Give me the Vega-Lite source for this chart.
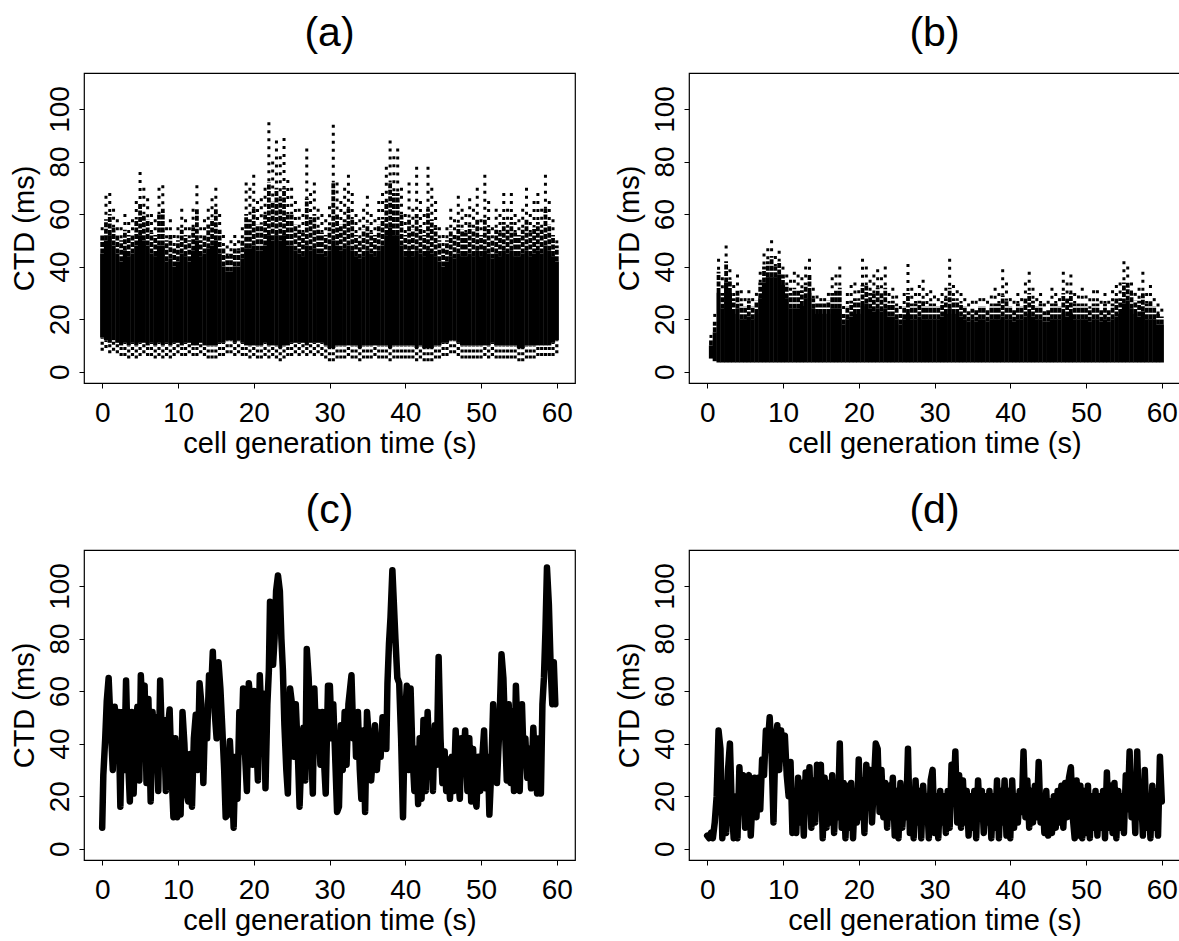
{
"$schema": "https://vega.github.io/schema/vega-lite/v6.json",
"background": "white",
"padding": {"left": 9, "top": 12, "right": 0, "bottom": 0},
"autosize": {"type": "pad"},
"columns": 2,
"spacing": {"column": 38, "row": 30},
"config": {
 "view": {"stroke": "black", "strokeWidth": 1.2},
 "font": "Liberation Sans",
 "title": {"font": "Liberation Sans", "fontSize": 41, "fontWeight": "normal", "color": "black", "offset": 18, "anchor": "middle", "frame": "group"},
 "axis": {"domain": false, "grid": false, "ticks": true, "tickColor": "black", "tickSize": 5, "tickWidth": 1, "labelFont": "Liberation Sans", "labelFontSize": 28, "labelColor": "black", "titleFont": "Liberation Sans", "titleFontSize": 29, "titleFontWeight": "normal", "titleColor": "black", "labelFlush": false, "labelOverlap": false},
 "axisX": {"labelPadding": 11, "titlePadding": 2, "minExtent": 44, "maxExtent": 44},
 "axisY": {"labelAngle": -90, "labelAlign": "center", "labelBaseline": "bottom", "labelPadding": 5, "titlePadding": 8, "minExtent": 37, "maxExtent": 37}
},
"concat": [
 {"title": "(a)", "width": 491, "height": 310, "data": {"name": "a"},
  "encoding": {"x": {"field": "t", "type": "quantitative", "scale": {"domain": [-2.4, 62.4], "nice": false, "zero": false}, "axis": {"title": "cell generation time (s)", "values": [0,10,20,30,40,50,60]}}},
  "layer": [
   {"mark": {"type": "rule", "color": "black", "strokeWidth": 3.2, "strokeDash": [3,3]}, "encoding": {"y": {"field": "mn", "type": "quantitative", "scale": {"domain": [-4.3, 113.7], "nice": false, "zero": false}, "axis": {"title": "CTD (ms)", "values": [0,20,40,60,80,100]}}, "y2": {"field": "lo"}}},
   {"mark": {"type": "rule", "color": "black", "strokeWidth": 4.2}, "encoding": {"y": {"field": "lo", "type": "quantitative", "title": "CTD (ms)"}, "y2": {"field": "hi"}}},
   {"mark": {"type": "rule", "color": "black", "strokeWidth": 3.8, "strokeDash": [5,1.5]}, "encoding": {"y": {"field": "hi", "type": "quantitative", "title": "CTD (ms)"}, "y2": {"field": "md"}}},
   {"mark": {"type": "rule", "color": "black", "strokeWidth": 3, "strokeDash": [3,5]}, "encoding": {"y": {"field": "mx", "type": "quantitative", "title": "CTD (ms)"}, "y2": {"field": "md"}}}
  ]},
 {"title": "(b)", "width": 491, "height": 310, "data": {"name": "b"},
  "encoding": {"x": {"field": "t", "type": "quantitative", "scale": {"domain": [-2.4, 62.4], "nice": false, "zero": false}, "axis": {"title": "cell generation time (s)", "values": [0,10,20,30,40,50,60]}}},
  "layer": [
   {"mark": {"type": "rule", "color": "black", "strokeWidth": 4.2}, "encoding": {"y": {"field": "lo", "type": "quantitative", "scale": {"domain": [-4.3, 113.7], "nice": false, "zero": false}, "axis": {"title": "CTD (ms)", "values": [0,20,40,60,80,100]}}, "y2": {"field": "hi"}}},
   {"mark": {"type": "rule", "color": "black", "strokeWidth": 3.8, "strokeDash": [5,1.5]}, "encoding": {"y": {"field": "hi", "type": "quantitative", "title": "CTD (ms)"}, "y2": {"field": "md"}}},
   {"mark": {"type": "rule", "color": "black", "strokeWidth": 3, "strokeDash": [3,5]}, "encoding": {"y": {"field": "mx", "type": "quantitative", "title": "CTD (ms)"}, "y2": {"field": "md"}}}
  ]},
 {"title": "(c)", "width": 491, "height": 310, "data": {"name": "c"},
  "mark": {"type": "line", "color": "black", "strokeWidth": 6.5, "strokeJoin": "round", "strokeCap": "round"},
  "encoding": {
   "x": {"field": "t", "type": "quantitative", "scale": {"domain": [-2.4, 62.4], "nice": false, "zero": false}, "axis": {"title": "cell generation time (s)", "values": [0,10,20,30,40,50,60]}},
   "y": {"field": "v", "type": "quantitative", "scale": {"domain": [-4.3, 113.7], "nice": false, "zero": false}, "axis": {"title": "CTD (ms)", "values": [0,20,40,60,80,100]}}}},
 {"title": "(d)", "width": 491, "height": 310, "data": {"name": "d"},
  "mark": {"type": "line", "color": "black", "strokeWidth": 6.5, "strokeJoin": "round", "strokeCap": "round"},
  "encoding": {
   "x": {"field": "t", "type": "quantitative", "scale": {"domain": [-2.4, 62.4], "nice": false, "zero": false}, "axis": {"title": "cell generation time (s)", "values": [0,10,20,30,40,50,60]}},
   "y": {"field": "v", "type": "quantitative", "scale": {"domain": [-4.3, 113.7], "nice": false, "zero": false}, "axis": {"title": "CTD (ms)", "values": [0,20,40,60,80,100]}}}}
],
"datasets": {
"a": [
{"t":0,"mn":8,"lo":13,"hi":45,"md":52,"mx":55},
{"t":0.5,"mn":9,"lo":12,"hi":50,"md":58,"mx":67},
{"t":1,"mn":7,"lo":11,"hi":52,"md":60,"mx":68},
{"t":1.5,"mn":8,"lo":12,"hi":48,"md":55,"mx":62},
{"t":2,"mn":7,"lo":11,"hi":45,"md":52,"mx":58},
{"t":2.5,"mn":6,"lo":10,"hi":42,"md":50,"mx":55},
{"t":3,"mn":6,"lo":11,"hi":46,"md":54,"mx":60},
{"t":3.5,"mn":5,"lo":10,"hi":44,"md":52,"mx":57},
{"t":4,"mn":6,"lo":11,"hi":45,"md":52,"mx":58},
{"t":4.5,"mn":5,"lo":10,"hi":48,"md":58,"mx":65},
{"t":5,"mn":6,"lo":11,"hi":52,"md":64,"mx":76},
{"t":5.5,"mn":7,"lo":11,"hi":50,"md":60,"mx":70},
{"t":6,"mn":6,"lo":10,"hi":48,"md":58,"mx":66},
{"t":6.5,"mn":6,"lo":11,"hi":45,"md":53,"mx":60},
{"t":7,"mn":5,"lo":10,"hi":44,"md":52,"mx":58},
{"t":7.5,"mn":6,"lo":11,"hi":48,"md":60,"mx":70},
{"t":8,"mn":5,"lo":10,"hi":48,"md":62,"mx":71},
{"t":8.5,"mn":6,"lo":11,"hi":42,"md":50,"mx":55},
{"t":9,"mn":5,"lo":10,"hi":43,"md":52,"mx":58},
{"t":9.5,"mn":6,"lo":11,"hi":40,"md":47,"mx":52},
{"t":10,"mn":7,"lo":11,"hi":42,"md":50,"mx":55},
{"t":10.5,"mn":6,"lo":10,"hi":45,"md":54,"mx":62},
{"t":11,"mn":6,"lo":11,"hi":44,"md":52,"mx":58},
{"t":11.5,"mn":7,"lo":11,"hi":42,"md":50,"mx":55},
{"t":12,"mn":6,"lo":10,"hi":46,"md":55,"mx":62},
{"t":12.5,"mn":6,"lo":10,"hi":50,"md":62,"mx":71},
{"t":13,"mn":7,"lo":11,"hi":44,"md":50,"mx":55},
{"t":13.5,"mn":6,"lo":10,"hi":45,"md":52,"mx":58},
{"t":14,"mn":5,"lo":10,"hi":47,"md":56,"mx":62},
{"t":14.5,"mn":5,"lo":10,"hi":48,"md":58,"mx":66},
{"t":15,"mn":5,"lo":10,"hi":50,"md":62,"mx":70},
{"t":15.5,"mn":6,"lo":11,"hi":45,"md":54,"mx":60},
{"t":16,"mn":6,"lo":11,"hi":40,"md":47,"mx":52},
{"t":16.5,"mn":7,"lo":12,"hi":38,"md":44,"mx":48},
{"t":17,"mn":7,"lo":12,"hi":38,"md":45,"mx":50},
{"t":17.5,"mn":6,"lo":11,"hi":40,"md":47,"mx":52},
{"t":18,"mn":7,"lo":12,"hi":40,"md":46,"mx":50},
{"t":18.5,"mn":6,"lo":11,"hi":43,"md":50,"mx":55},
{"t":19,"mn":6,"lo":10,"hi":47,"md":60,"mx":72},
{"t":19.5,"mn":5,"lo":10,"hi":47,"md":58,"mx":70},
{"t":20,"mn":6,"lo":10,"hi":48,"md":62,"mx":75},
{"t":20.5,"mn":5,"lo":10,"hi":46,"md":56,"mx":65},
{"t":21,"mn":5,"lo":10,"hi":46,"md":56,"mx":66},
{"t":21.5,"mn":6,"lo":11,"hi":48,"md":60,"mx":70},
{"t":22,"mn":5,"lo":10,"hi":52,"md":72,"mx":95},
{"t":22.5,"mn":6,"lo":10,"hi":50,"md":65,"mx":80},
{"t":23,"mn":5,"lo":10,"hi":52,"md":70,"mx":88},
{"t":23.5,"mn":4,"lo":9,"hi":50,"md":66,"mx":82},
{"t":24,"mn":5,"lo":10,"hi":52,"md":70,"mx":89},
{"t":24.5,"mn":6,"lo":10,"hi":48,"md":60,"mx":73},
{"t":25,"mn":6,"lo":11,"hi":48,"md":60,"mx":70},
{"t":25.5,"mn":7,"lo":11,"hi":46,"md":56,"mx":65},
{"t":26,"mn":6,"lo":11,"hi":45,"md":54,"mx":62},
{"t":26.5,"mn":7,"lo":11,"hi":44,"md":53,"mx":60},
{"t":27,"mn":6,"lo":10,"hi":48,"md":66,"mx":85},
{"t":27.5,"mn":7,"lo":11,"hi":46,"md":58,"mx":68},
{"t":28,"mn":6,"lo":11,"hi":47,"md":60,"mx":72},
{"t":28.5,"mn":7,"lo":11,"hi":45,"md":54,"mx":62},
{"t":29,"mn":6,"lo":11,"hi":45,"md":53,"mx":60},
{"t":29.5,"mn":5,"lo":10,"hi":44,"md":52,"mx":58},
{"t":30,"mn":4,"lo":9,"hi":46,"md":55,"mx":63},
{"t":30.5,"mn":4,"lo":9,"hi":50,"md":72,"mx":94},
{"t":31,"mn":5,"lo":10,"hi":48,"md":60,"mx":72},
{"t":31.5,"mn":5,"lo":10,"hi":46,"md":56,"mx":65},
{"t":32,"mn":5,"lo":10,"hi":47,"md":58,"mx":70},
{"t":32.5,"mn":6,"lo":10,"hi":48,"md":62,"mx":75},
{"t":33,"mn":5,"lo":10,"hi":46,"md":58,"mx":68},
{"t":33.5,"mn":5,"lo":10,"hi":44,"md":52,"mx":60},
{"t":34,"mn":4,"lo":9,"hi":43,"md":50,"mx":58},
{"t":34.5,"mn":5,"lo":10,"hi":44,"md":54,"mx":62},
{"t":35,"mn":5,"lo":10,"hi":46,"md":56,"mx":67},
{"t":35.5,"mn":5,"lo":10,"hi":45,"md":53,"mx":60},
{"t":36,"mn":6,"lo":10,"hi":44,"md":52,"mx":58},
{"t":36.5,"mn":5,"lo":10,"hi":46,"md":56,"mx":65},
{"t":37,"mn":5,"lo":10,"hi":48,"md":58,"mx":68},
{"t":37.5,"mn":5,"lo":10,"hi":52,"md":65,"mx":78},
{"t":38,"mn":4,"lo":9,"hi":55,"md":72,"mx":88},
{"t":38.5,"mn":5,"lo":10,"hi":52,"md":68,"mx":82},
{"t":39,"mn":5,"lo":10,"hi":52,"md":68,"mx":85},
{"t":39.5,"mn":5,"lo":10,"hi":48,"md":60,"mx":70},
{"t":40,"mn":5,"lo":10,"hi":44,"md":52,"mx":60},
{"t":40.5,"mn":5,"lo":10,"hi":46,"md":58,"mx":72},
{"t":41,"mn":5,"lo":10,"hi":44,"md":54,"mx":62},
{"t":41.5,"mn":4,"lo":9,"hi":46,"md":60,"mx":78},
{"t":42,"mn":5,"lo":10,"hi":45,"md":55,"mx":65},
{"t":42.5,"mn":4,"lo":9,"hi":44,"md":52,"mx":60},
{"t":43,"mn":4,"lo":9,"hi":46,"md":62,"mx":78},
{"t":43.5,"mn":4,"lo":9,"hi":45,"md":58,"mx":70},
{"t":44,"mn":5,"lo":10,"hi":44,"md":55,"mx":65},
{"t":44.5,"mn":5,"lo":10,"hi":42,"md":50,"mx":55},
{"t":45,"mn":6,"lo":11,"hi":40,"md":47,"mx":52},
{"t":45.5,"mn":6,"lo":11,"hi":42,"md":50,"mx":55},
{"t":46,"mn":7,"lo":12,"hi":44,"md":54,"mx":62},
{"t":46.5,"mn":7,"lo":12,"hi":43,"md":52,"mx":58},
{"t":47,"mn":6,"lo":11,"hi":45,"md":56,"mx":67},
{"t":47.5,"mn":5,"lo":10,"hi":44,"md":54,"mx":62},
{"t":48,"mn":5,"lo":10,"hi":44,"md":53,"mx":60},
{"t":48.5,"mn":5,"lo":10,"hi":45,"md":56,"mx":66},
{"t":49,"mn":5,"lo":10,"hi":44,"md":54,"mx":62},
{"t":49.5,"mn":5,"lo":10,"hi":46,"md":58,"mx":70},
{"t":50,"mn":5,"lo":10,"hi":44,"md":52,"mx":58},
{"t":50.5,"mn":6,"lo":10,"hi":46,"md":58,"mx":75},
{"t":51,"mn":5,"lo":10,"hi":45,"md":55,"mx":65},
{"t":51.5,"mn":6,"lo":11,"hi":43,"md":50,"mx":55},
{"t":52,"mn":5,"lo":10,"hi":45,"md":54,"mx":62},
{"t":52.5,"mn":5,"lo":10,"hi":44,"md":53,"mx":60},
{"t":53,"mn":5,"lo":10,"hi":46,"md":57,"mx":68},
{"t":53.5,"mn":5,"lo":10,"hi":45,"md":54,"mx":62},
{"t":54,"mn":5,"lo":10,"hi":46,"md":57,"mx":68},
{"t":54.5,"mn":5,"lo":10,"hi":44,"md":53,"mx":60},
{"t":55,"mn":4,"lo":9,"hi":44,"md":52,"mx":58},
{"t":55.5,"mn":4,"lo":9,"hi":45,"md":54,"mx":62},
{"t":56,"mn":5,"lo":10,"hi":46,"md":58,"mx":70},
{"t":56.5,"mn":5,"lo":10,"hi":44,"md":53,"mx":60},
{"t":57,"mn":5,"lo":10,"hi":45,"md":55,"mx":65},
{"t":57.5,"mn":6,"lo":10,"hi":46,"md":57,"mx":68},
{"t":58,"mn":6,"lo":10,"hi":45,"md":54,"mx":62},
{"t":58.5,"mn":6,"lo":10,"hi":48,"md":62,"mx":75},
{"t":59,"mn":6,"lo":10,"hi":46,"md":56,"mx":65},
{"t":59.5,"mn":6,"lo":11,"hi":44,"md":52,"mx":58},
{"t":60,"mn":7,"lo":12,"hi":42,"md":48,"mx":50}
],
"b": [
{"t":0.5,"lo":5,"hi":10,"md":12,"mx":14},
{"t":1,"lo":4,"hi":15,"md":19,"mx":22},
{"t":1.5,"lo":3.5,"hi":30,"md":38,"mx":43},
{"t":2,"lo":3.5,"hi":24,"md":30,"mx":36},
{"t":2.5,"lo":3.5,"hi":34,"md":42,"mx":48},
{"t":3,"lo":3.5,"hi":30,"md":35,"mx":39},
{"t":3.5,"lo":3.5,"hi":22,"md":28,"mx":33},
{"t":4,"lo":3.5,"hi":24,"md":31,"mx":37},
{"t":4.5,"lo":3.5,"hi":20,"md":26,"mx":31},
{"t":5,"lo":3.5,"hi":20,"md":25,"mx":28},
{"t":5.5,"lo":3.5,"hi":21,"md":27,"mx":31},
{"t":6,"lo":3.5,"hi":20,"md":25,"mx":28},
{"t":6.5,"lo":3.5,"hi":22,"md":27,"mx":30},
{"t":7,"lo":3.5,"hi":28,"md":34,"mx":38},
{"t":7.5,"lo":3.5,"hi":34,"md":40,"mx":45},
{"t":8,"lo":3.5,"hi":36,"md":42,"mx":47},
{"t":8.5,"lo":3.5,"hi":36,"md":44,"mx":50},
{"t":9,"lo":3.5,"hi":36,"md":40,"mx":44},
{"t":9.5,"lo":3.5,"hi":37,"md":42,"mx":46},
{"t":10,"lo":3.5,"hi":33,"md":37,"mx":40},
{"t":10.5,"lo":3.5,"hi":28,"md":33,"mx":37},
{"t":11,"lo":3.5,"hi":24,"md":30,"mx":35},
{"t":11.5,"lo":3.5,"hi":24,"md":32,"mx":38},
{"t":12,"lo":3.5,"hi":24,"md":31,"mx":37},
{"t":12.5,"lo":3.5,"hi":25,"md":31,"mx":36},
{"t":13,"lo":3.5,"hi":28,"md":34,"mx":40},
{"t":13.5,"lo":3.5,"hi":30,"md":37,"mx":43},
{"t":14,"lo":3.5,"hi":24,"md":28,"mx":32},
{"t":14.5,"lo":3.5,"hi":22,"md":26,"mx":29},
{"t":15,"lo":3.5,"hi":22,"md":26,"mx":28},
{"t":15.5,"lo":3.5,"hi":22,"md":26,"mx":28},
{"t":16,"lo":3.5,"hi":22,"md":27,"mx":30},
{"t":16.5,"lo":3.5,"hi":24,"md":30,"mx":36},
{"t":17,"lo":3.5,"hi":24,"md":31,"mx":37},
{"t":17.5,"lo":3.5,"hi":24,"md":32,"mx":40},
{"t":18,"lo":3.5,"hi":18,"md":22,"mx":25},
{"t":18.5,"lo":3.5,"hi":20,"md":25,"mx":30},
{"t":19,"lo":3.5,"hi":21,"md":27,"mx":33},
{"t":19.5,"lo":3.5,"hi":22,"md":28,"mx":34},
{"t":20,"lo":3.5,"hi":22,"md":27,"mx":31},
{"t":20.5,"lo":3.5,"hi":25,"md":33,"mx":43},
{"t":21,"lo":3.5,"hi":26,"md":33,"mx":40},
{"t":21.5,"lo":3.5,"hi":24,"md":30,"mx":35},
{"t":22,"lo":3.5,"hi":23,"md":30,"mx":37},
{"t":22.5,"lo":3.5,"hi":24,"md":32,"mx":39},
{"t":23,"lo":3.5,"hi":23,"md":30,"mx":36},
{"t":23.5,"lo":3.5,"hi":24,"md":32,"mx":40},
{"t":24,"lo":3.5,"hi":21,"md":26,"mx":30},
{"t":24.5,"lo":3.5,"hi":21,"md":27,"mx":32},
{"t":25,"lo":3.5,"hi":20,"md":25,"mx":29},
{"t":25.5,"lo":3.5,"hi":18,"md":22,"mx":25},
{"t":26,"lo":3.5,"hi":20,"md":25,"mx":30},
{"t":26.5,"lo":3.5,"hi":22,"md":30,"mx":41},
{"t":27,"lo":3.5,"hi":20,"md":26,"mx":32},
{"t":27.5,"lo":3.5,"hi":20,"md":26,"mx":30},
{"t":28,"lo":3.5,"hi":21,"md":27,"mx":33},
{"t":28.5,"lo":3.5,"hi":20,"md":27,"mx":35},
{"t":29,"lo":3.5,"hi":20,"md":25,"mx":30},
{"t":29.5,"lo":3.5,"hi":20,"md":26,"mx":31},
{"t":30,"lo":3.5,"hi":20,"md":25,"mx":29},
{"t":30.5,"lo":3.5,"hi":20,"md":25,"mx":28},
{"t":31,"lo":3.5,"hi":21,"md":26,"mx":30},
{"t":31.5,"lo":3.5,"hi":22,"md":28,"mx":32},
{"t":32,"lo":3.5,"hi":24,"md":32,"mx":43},
{"t":32.5,"lo":3.5,"hi":22,"md":28,"mx":33},
{"t":33,"lo":3.5,"hi":22,"md":27,"mx":31},
{"t":33.5,"lo":3.5,"hi":21,"md":26,"mx":30},
{"t":34,"lo":3.5,"hi":20,"md":25,"mx":28},
{"t":34.5,"lo":3.5,"hi":19,"md":23,"mx":26},
{"t":35,"lo":3.5,"hi":20,"md":24,"mx":27},
{"t":35.5,"lo":3.5,"hi":19,"md":24,"mx":27},
{"t":36,"lo":3.5,"hi":20,"md":25,"mx":28},
{"t":36.5,"lo":3.5,"hi":20,"md":25,"mx":28},
{"t":37,"lo":3.5,"hi":19,"md":24,"mx":27},
{"t":37.5,"lo":3.5,"hi":20,"md":25,"mx":29},
{"t":38,"lo":3.5,"hi":20,"md":26,"mx":32},
{"t":38.5,"lo":3.5,"hi":20,"md":26,"mx":30},
{"t":39,"lo":3.5,"hi":21,"md":29,"mx":39},
{"t":39.5,"lo":3.5,"hi":20,"md":27,"mx":34},
{"t":40,"lo":3.5,"hi":20,"md":25,"mx":28},
{"t":40.5,"lo":3.5,"hi":19,"md":24,"mx":27},
{"t":41,"lo":3.5,"hi":20,"md":26,"mx":30},
{"t":41.5,"lo":3.5,"hi":20,"md":25,"mx":28},
{"t":42,"lo":3.5,"hi":21,"md":28,"mx":34},
{"t":42.5,"lo":3.5,"hi":22,"md":30,"mx":38},
{"t":43,"lo":3.5,"hi":21,"md":27,"mx":32},
{"t":43.5,"lo":3.5,"hi":20,"md":25,"mx":28},
{"t":44,"lo":3.5,"hi":20,"md":26,"mx":30},
{"t":44.5,"lo":3.5,"hi":19,"md":23,"mx":26},
{"t":45,"lo":3.5,"hi":19,"md":24,"mx":27},
{"t":45.5,"lo":3.5,"hi":20,"md":26,"mx":32},
{"t":46,"lo":3.5,"hi":20,"md":26,"mx":30},
{"t":46.5,"lo":3.5,"hi":20,"md":25,"mx":28},
{"t":47,"lo":3.5,"hi":22,"md":30,"mx":38},
{"t":47.5,"lo":3.5,"hi":21,"md":28,"mx":34},
{"t":48,"lo":3.5,"hi":22,"md":30,"mx":37},
{"t":48.5,"lo":3.5,"hi":20,"md":26,"mx":30},
{"t":49,"lo":3.5,"hi":20,"md":25,"mx":29},
{"t":49.5,"lo":3.5,"hi":20,"md":26,"mx":32},
{"t":50,"lo":3.5,"hi":20,"md":25,"mx":29},
{"t":50.5,"lo":3.5,"hi":19,"md":24,"mx":28},
{"t":51,"lo":3.5,"hi":20,"md":26,"mx":31},
{"t":51.5,"lo":3.5,"hi":20,"md":26,"mx":31},
{"t":52,"lo":3.5,"hi":19,"md":24,"mx":27},
{"t":52.5,"lo":3.5,"hi":20,"md":26,"mx":30},
{"t":53,"lo":3.5,"hi":19,"md":24,"mx":27},
{"t":53.5,"lo":3.5,"hi":20,"md":26,"mx":31},
{"t":54,"lo":3.5,"hi":21,"md":28,"mx":33},
{"t":54.5,"lo":3.5,"hi":22,"md":28,"mx":34},
{"t":55,"lo":3.5,"hi":26,"md":34,"mx":42},
{"t":55.5,"lo":3.5,"hi":27,"md":34,"mx":40},
{"t":56,"lo":3.5,"hi":24,"md":30,"mx":34},
{"t":56.5,"lo":3.5,"hi":22,"md":27,"mx":30},
{"t":57,"lo":3.5,"hi":21,"md":27,"mx":32},
{"t":57.5,"lo":3.5,"hi":23,"md":30,"mx":38},
{"t":58,"lo":3.5,"hi":20,"md":26,"mx":30},
{"t":58.5,"lo":3.5,"hi":20,"md":27,"mx":33},
{"t":59,"lo":3.5,"hi":20,"md":25,"mx":28},
{"t":59.5,"lo":3.5,"hi":18,"md":22,"mx":26},
{"t":60,"lo":3.5,"hi":18,"md":21,"mx":24}
],
"c": [
{"t":0,"v":8},{"t":0.15,"v":28},{"t":0.4,"v":42},{"t":0.6,"v":56},{"t":0.85,"v":65},{"t":1.1,"v":48},{"t":1.4,"v":30},{"t":1.65,"v":54},{"t":1.9,"v":40},{"t":2.15,"v":52},
{"t":2.4,"v":16},{"t":2.65,"v":52},{"t":2.9,"v":30},{"t":3.15,"v":64},{"t":3.4,"v":35},{"t":3.65,"v":18},{"t":3.9,"v":52},{"t":4.15,"v":21},{"t":4.4,"v":45},{"t":4.65,"v":54},
{"t":4.9,"v":26},{"t":5.1,"v":66},{"t":5.35,"v":50},{"t":5.6,"v":62},{"t":5.85,"v":25},{"t":6.1,"v":57},{"t":6.4,"v":18},{"t":6.65,"v":52},{"t":6.9,"v":38},{"t":7.15,"v":50},
{"t":7.4,"v":22},{"t":7.65,"v":64},{"t":7.9,"v":40},{"t":8.15,"v":49},{"t":8.4,"v":22},{"t":8.65,"v":45},{"t":8.9,"v":53},{"t":9.15,"v":30},{"t":9.4,"v":12},{"t":9.65,"v":42},
{"t":9.9,"v":12},{"t":10.1,"v":40},{"t":10.35,"v":13},{"t":10.6,"v":52},{"t":10.85,"v":40},{"t":11.1,"v":22},{"t":11.35,"v":18},{"t":11.6,"v":36},{"t":11.85,"v":16},{"t":12.1,"v":42},
{"t":12.35,"v":51},{"t":12.6,"v":30},{"t":12.85,"v":63},{"t":13.1,"v":55},{"t":13.35,"v":25},{"t":13.6,"v":52},{"t":13.85,"v":42},{"t":14.1,"v":66},{"t":14.35,"v":58},{"t":14.6,"v":75},
{"t":14.85,"v":52},{"t":15.1,"v":42},{"t":15.35,"v":71},{"t":15.6,"v":61},{"t":15.85,"v":46},{"t":16.1,"v":30},{"t":16.3,"v":12},{"t":16.6,"v":13},{"t":16.85,"v":41},{"t":17.1,"v":27},
{"t":17.35,"v":8},{"t":17.6,"v":35},{"t":17.85,"v":19},{"t":18.1,"v":52},{"t":18.35,"v":37},{"t":18.6,"v":61},{"t":18.85,"v":36},{"t":19.1,"v":22},{"t":19.35,"v":63},{"t":19.6,"v":55},
{"t":19.85,"v":32},{"t":20.05,"v":60},{"t":20.3,"v":44},{"t":20.55,"v":26},{"t":20.8,"v":66},{"t":21.05,"v":47},{"t":21.3,"v":59},{"t":21.55,"v":23},{"t":21.8,"v":55},{"t":22.0,"v":68},
{"t":22.15,"v":94},{"t":22.35,"v":88},{"t":22.55,"v":70},{"t":22.75,"v":80},{"t":22.95,"v":98},{"t":23.2,"v":104},{"t":23.45,"v":98},{"t":23.65,"v":80},{"t":23.85,"v":68},{"t":24.05,"v":47},
{"t":24.3,"v":30},{"t":24.5,"v":21},{"t":24.8,"v":61},{"t":25.05,"v":55},{"t":25.3,"v":35},{"t":25.55,"v":55},{"t":25.8,"v":38},{"t":26.05,"v":16},{"t":26.3,"v":36},{"t":26.55,"v":46},
{"t":26.8,"v":26},{"t":27.0,"v":76},{"t":27.25,"v":65},{"t":27.5,"v":44},{"t":27.8,"v":21},{"t":28.0,"v":61},{"t":28.25,"v":40},{"t":28.5,"v":52},{"t":28.8,"v":32},{"t":29.05,"v":52},
{"t":29.3,"v":32},{"t":29.5,"v":21},{"t":29.8,"v":62},{"t":30.05,"v":62},{"t":30.3,"v":42},{"t":30.5,"v":55},{"t":30.75,"v":35},{"t":31.0,"v":14},{"t":31.25,"v":16},{"t":31.5,"v":47},
{"t":31.75,"v":30},{"t":32.0,"v":52},{"t":32.25,"v":32},{"t":32.5,"v":55},{"t":32.9,"v":66},{"t":33.15,"v":42},{"t":33.35,"v":49},{"t":33.5,"v":35},{"t":33.75,"v":52},{"t":34.0,"v":30},
{"t":34.2,"v":19},{"t":34.45,"v":45},{"t":34.7,"v":14},{"t":34.95,"v":52},{"t":35.2,"v":42},{"t":35.5,"v":26},{"t":35.75,"v":37},{"t":36.0,"v":47},{"t":36.25,"v":30},{"t":36.5,"v":42},
{"t":36.75,"v":35},{"t":37.0,"v":50},{"t":37.25,"v":47},{"t":37.5,"v":38},{"t":37.65,"v":63},{"t":37.85,"v":78},{"t":38.05,"v":88},{"t":38.3,"v":106},{"t":38.5,"v":93},{"t":38.7,"v":80},
{"t":38.95,"v":65},{"t":39.2,"v":63},{"t":39.45,"v":42},{"t":39.7,"v":12},{"t":39.95,"v":49},{"t":40.2,"v":62},{"t":40.45,"v":30},{"t":40.7,"v":61},{"t":40.95,"v":36},{"t":41.2,"v":22},
{"t":41.45,"v":38},{"t":41.7,"v":17},{"t":41.9,"v":42},{"t":42.15,"v":19},{"t":42.4,"v":49},{"t":42.7,"v":22},{"t":42.95,"v":52},{"t":43.2,"v":32},{"t":43.4,"v":42},{"t":43.65,"v":22},
{"t":43.9,"v":47},{"t":44.15,"v":32},{"t":44.4,"v":73},{"t":44.65,"v":42},{"t":44.9,"v":25},{"t":45.2,"v":37},{"t":45.4,"v":22},{"t":45.65,"v":34},{"t":45.9,"v":19},{"t":46.15,"v":35},
{"t":46.4,"v":22},{"t":46.65,"v":45},{"t":46.9,"v":30},{"t":47.2,"v":19},{"t":47.4,"v":42},{"t":47.65,"v":32},{"t":47.9,"v":45},{"t":48.2,"v":22},{"t":48.45,"v":42},{"t":48.7,"v":18},
{"t":48.95,"v":38},{"t":49.2,"v":19},{"t":49.4,"v":16},{"t":49.65,"v":35},{"t":49.9,"v":22},{"t":50.1,"v":32},{"t":50.4,"v":45},{"t":50.65,"v":23},{"t":50.9,"v":35},{"t":51.1,"v":13},
{"t":51.35,"v":30},{"t":51.6,"v":55},{"t":51.85,"v":36},{"t":52.1,"v":25},{"t":52.4,"v":45},{"t":52.7,"v":74},{"t":52.95,"v":65},{"t":53.2,"v":42},{"t":53.4,"v":26},{"t":53.65,"v":55},
{"t":53.9,"v":25},{"t":54.1,"v":52},{"t":54.35,"v":22},{"t":54.6,"v":62},{"t":54.85,"v":42},{"t":55.1,"v":22},{"t":55.4,"v":55},{"t":55.6,"v":36},{"t":55.85,"v":42},{"t":56.1,"v":27},
{"t":56.35,"v":38},{"t":56.6,"v":23},{"t":56.9,"v":46},{"t":57.15,"v":30},{"t":57.4,"v":21},{"t":57.65,"v":42},{"t":57.9,"v":21},{"t":58.1,"v":55},{"t":58.3,"v":65},{"t":58.5,"v":83},
{"t":58.7,"v":107},{"t":58.95,"v":93},{"t":59.2,"v":68},{"t":59.4,"v":55},{"t":59.6,"v":71},{"t":59.8,"v":55}
],
"d": [
{"t":0,"v":5},{"t":0.25,"v":4},{"t":0.5,"v":6},{"t":0.75,"v":4},{"t":1,"v":10},{"t":1.25,"v":20},{"t":1.5,"v":45},{"t":1.75,"v":38},{"t":2,"v":4},{"t":2.25,"v":25},
{"t":2.5,"v":6},{"t":2.75,"v":30},{"t":3,"v":40},{"t":3.25,"v":15},{"t":3.5,"v":4},{"t":3.75,"v":20},{"t":4,"v":4},{"t":4.25,"v":31},{"t":4.5,"v":18},{"t":4.75,"v":28},
{"t":5,"v":8},{"t":5.25,"v":25},{"t":5.5,"v":28},{"t":5.75,"v":5},{"t":6,"v":20},{"t":6.25,"v":27},{"t":6.5,"v":12},{"t":6.75,"v":27},{"t":7,"v":15},{"t":7.25,"v":34},
{"t":7.5,"v":28},{"t":7.75,"v":45},{"t":8,"v":40},{"t":8.25,"v":50},{"t":8.5,"v":36},{"t":8.75,"v":10},{"t":9,"v":40},{"t":9.25,"v":47},{"t":9.5,"v":30},{"t":9.75,"v":45},
{"t":10,"v":35},{"t":10.25,"v":43},{"t":10.5,"v":28},{"t":10.75,"v":20},{"t":11,"v":33},{"t":11.25,"v":6},{"t":11.5,"v":20},{"t":11.75,"v":6},{"t":12,"v":27},{"t":12.25,"v":10},
{"t":12.5,"v":25},{"t":12.75,"v":5},{"t":13,"v":29},{"t":13.25,"v":18},{"t":13.5,"v":31},{"t":13.75,"v":8},{"t":14,"v":26},{"t":14.25,"v":10},{"t":14.5,"v":32},{"t":14.75,"v":20},
{"t":15,"v":32},{"t":15.25,"v":4},{"t":15.5,"v":27},{"t":15.75,"v":8},{"t":16,"v":25},{"t":16.25,"v":10},{"t":16.5,"v":28},{"t":16.75,"v":6},{"t":17,"v":22},{"t":17.25,"v":12},
{"t":17.5,"v":40},{"t":17.75,"v":8},{"t":18,"v":25},{"t":18.25,"v":4},{"t":18.5,"v":24},{"t":18.75,"v":8},{"t":19,"v":25},{"t":19.25,"v":4},{"t":19.5,"v":22},{"t":19.75,"v":10},
{"t":20,"v":34},{"t":20.25,"v":12},{"t":20.5,"v":26},{"t":20.75,"v":6},{"t":21,"v":32},{"t":21.25,"v":18},{"t":21.5,"v":30},{"t":21.75,"v":10},{"t":22,"v":25},{"t":22.25,"v":40},
{"t":22.5,"v":38},{"t":22.75,"v":14},{"t":23,"v":30},{"t":23.25,"v":12},{"t":23.5,"v":25},{"t":23.75,"v":8},{"t":24,"v":24},{"t":24.25,"v":12},{"t":24.5,"v":27},{"t":24.75,"v":5},
{"t":25,"v":22},{"t":25.25,"v":4},{"t":25.5,"v":25},{"t":25.75,"v":8},{"t":26,"v":21},{"t":26.25,"v":12},{"t":26.5,"v":38},{"t":26.75,"v":6},{"t":27,"v":22},{"t":27.25,"v":4},
{"t":27.5,"v":26},{"t":27.75,"v":10},{"t":28,"v":22},{"t":28.25,"v":4},{"t":28.5,"v":24},{"t":28.75,"v":12},{"t":29,"v":20},{"t":29.25,"v":4},{"t":29.5,"v":26},{"t":29.75,"v":30},
{"t":30,"v":6},{"t":30.25,"v":20},{"t":30.5,"v":4},{"t":30.75,"v":22},{"t":31,"v":10},{"t":31.25,"v":20},{"t":31.5,"v":6},{"t":31.75,"v":22},{"t":32,"v":8},{"t":32.25,"v":32},
{"t":32.5,"v":18},{"t":32.75,"v":37},{"t":33,"v":10},{"t":33.25,"v":28},{"t":33.5,"v":8},{"t":33.75,"v":26},{"t":34,"v":10},{"t":34.25,"v":22},{"t":34.5,"v":5},{"t":34.75,"v":20},
{"t":35,"v":8},{"t":35.25,"v":22},{"t":35.5,"v":4},{"t":35.75,"v":26},{"t":36,"v":12},{"t":36.25,"v":22},{"t":36.5,"v":6},{"t":36.75,"v":20},{"t":37,"v":10},{"t":37.25,"v":22},
{"t":37.5,"v":4},{"t":37.75,"v":20},{"t":38,"v":8},{"t":38.25,"v":26},{"t":38.5,"v":4},{"t":38.75,"v":22},{"t":39,"v":10},{"t":39.25,"v":26},{"t":39.5,"v":5},{"t":39.75,"v":22},
{"t":40,"v":4},{"t":40.25,"v":26},{"t":40.5,"v":8},{"t":40.75,"v":20},{"t":41,"v":10},{"t":41.25,"v":22},{"t":41.5,"v":14},{"t":41.75,"v":37},{"t":42,"v":12},{"t":42.25,"v":26},
{"t":42.5,"v":8},{"t":42.75,"v":22},{"t":43,"v":10},{"t":43.25,"v":24},{"t":43.5,"v":12},{"t":43.75,"v":33},{"t":44,"v":10},{"t":44.25,"v":20},{"t":44.5,"v":6},{"t":44.75,"v":22},
{"t":45,"v":5},{"t":45.25,"v":18},{"t":45.5,"v":6},{"t":45.75,"v":20},{"t":46,"v":8},{"t":46.25,"v":22},{"t":46.5,"v":10},{"t":46.75,"v":24},{"t":47,"v":8},{"t":47.25,"v":25},
{"t":47.5,"v":12},{"t":47.75,"v":27},{"t":48,"v":31},{"t":48.25,"v":12},{"t":48.5,"v":4},{"t":48.75,"v":26},{"t":49,"v":5},{"t":49.25,"v":24},{"t":49.5,"v":4},{"t":49.75,"v":22},
{"t":50,"v":6},{"t":50.25,"v":24},{"t":50.5,"v":4},{"t":50.75,"v":20},{"t":51,"v":8},{"t":51.25,"v":22},{"t":51.5,"v":5},{"t":51.75,"v":20},{"t":52,"v":8},{"t":52.25,"v":22},
{"t":52.5,"v":4},{"t":52.75,"v":29},{"t":53,"v":8},{"t":53.25,"v":24},{"t":53.5,"v":6},{"t":53.75,"v":25},{"t":54,"v":4},{"t":54.25,"v":22},{"t":54.5,"v":8},{"t":54.75,"v":20},
{"t":55,"v":6},{"t":55.25,"v":28},{"t":55.5,"v":15},{"t":55.75,"v":37},{"t":56,"v":12},{"t":56.25,"v":24},{"t":56.5,"v":6},{"t":56.75,"v":37},{"t":57,"v":12},{"t":57.25,"v":22},
{"t":57.5,"v":5},{"t":57.75,"v":30},{"t":58,"v":8},{"t":58.25,"v":20},{"t":58.5,"v":4},{"t":58.75,"v":24},{"t":59,"v":8},{"t":59.25,"v":22},{"t":59.5,"v":5},{"t":59.75,"v":35},
{"t":60,"v":18}
]
}
}
